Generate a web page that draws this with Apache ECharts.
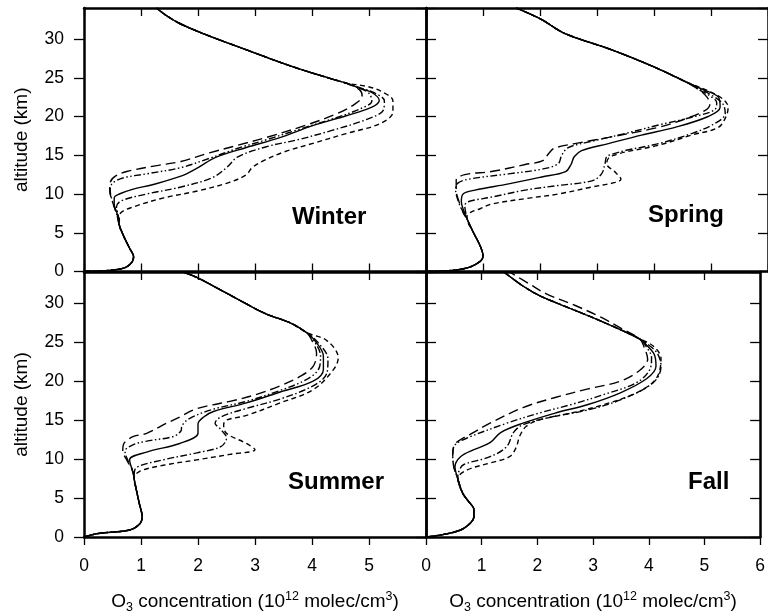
<!DOCTYPE html>
<html>
<head>
<meta charset="utf-8">
<script src="https://cdn.jsdelivr.net/npm/echarts/dist/echarts.min.js"></script>
<style>
  html, body { margin: 0; padding: 0; background: #fff; }
  #chart { width: 768px; height: 616px; }
</style>
</head>
<body>
<div id="chart"></div>
<script>
// Seasonal ozone number-density profiles: [O3 (1e12 molec/cm3), altitude (km)]
const seasons = ['Winter', 'Spring', 'Summer', 'Fall'];
const xRange = [0, 6];
const xStep = 1;
const yRange = [0, 34];
const yStep = 5;
const xTickLabels = ['0', '1', '2', '3', '4', '5', '6'];
const yTickLabels = ['0', '5', '10', '15', '20', '25', '30'];

// ---- Winter ----
const winterLow = [[0,0],[0.45,0.15],[0.72,0.5],[0.84,1.2],[0.87,1.9],[0.80,3.0],[0.70,4.5],[0.62,6.0]];
const winterHigh = [[4.6,24.3],[4.37,24.8],[3.67,26.4],[2.85,28.6],[2.09,30.7],[1.68,32.0],[1.45,33.0],[1.27,34]];
const winter1 = [[0.57,7.5],[0.5,9.0],[0.45,10.5],[0.46,11.5],[0.55,12.3],[0.75,12.9],[1.3,13.7],[1.7,14.2],[2.2,15.3],[2.7,16.3],[3.2,17.3],[3.9,18.9],[4.45,20.4],[4.75,21.6],[4.88,22.6],[4.84,23.4]];
const winter2 = [[0.57,7.5],[0.5,9.0],[0.46,10.5],[0.5,11.4],[0.7,12.1],[1.1,12.6],[1.7,13.4],[2.2,14.6],[2.7,15.9],[3.2,17.0],[3.8,18.4],[4.4,19.8],[4.85,21.0],[5.05,22.0],[5.0,23.0],[4.85,23.6]];
const winter3 = [[0.58,7.5],[0.53,8.7],[0.53,9.5],[0.62,10.0],[0.85,10.6],[1.2,11.2],[1.7,12.3],[2.0,13.4],[2.3,14.7],[2.85,16.0],[3.45,17.3],[4.0,18.8],[4.6,20.1],[5.05,21.2],[5.18,22.1],[5.05,23.1],[4.85,23.6]];
const winter4 = [[0.6,7.3],[0.57,8.3],[0.65,9.1],[1.1,10.0],[1.7,10.9],[2.25,12.1],[2.5,13.4],[2.7,14.8],[3.2,16.1],[3.75,17.0],[4.35,18.2],[4.95,19.6],[5.25,20.8],[5.27,22.0],[5.08,23.1],[4.85,23.7]];
const winter5 = [[0.62,6.8],[0.65,7.6],[0.85,8.3],[1.4,9.5],[2.0,10.4],[2.55,11.5],[2.85,12.5],[2.95,13.4],[3.15,14.3],[3.5,15.4],[4.0,16.5],[4.6,17.8],[5.2,19.1],[5.42,20.6],[5.42,22.0],[5.2,23.3],[4.95,23.9]];

// ---- Spring ----
const springLow = [[0,0],[0.4,0.1],[0.74,0.5],[0.95,1.3],[1.0,2.0],[0.95,3.3],[0.82,5.2],[0.72,6.8]];
const springHigh = [[4.55,24.5],[4.0,26.4],[3.26,28.6],[2.44,30.7],[2.03,32.5],[1.62,33.9],[1.58,34]];
const spring1 = [[0.66,7.5],[0.58,9.0],[0.53,10.5],[0.53,11.8],[0.68,12.5],[1.15,12.9],[1.74,13.8],[2.05,14.3],[2.15,15.2],[2.25,15.9],[2.61,16.5],[3.2,17.3],[4.08,18.6],[4.55,19.7],[4.9,20.8],[4.98,21.6],[4.93,22.5],[4.8,23.4]];
const spring2 = [[0.66,7.5],[0.57,9.0],[0.52,10.5],[0.56,11.4],[0.74,11.9],[1.45,12.6],[2.03,13.2],[2.32,13.9],[2.38,15.0],[2.5,16.0],[2.91,16.8],[3.49,17.8],[4.08,18.9],[4.66,19.9],[5.07,20.9],[5.1,21.8],[4.95,22.8],[4.8,23.4]];
const spring3 = [[0.68,7.5],[0.62,9.0],[0.65,10.0],[0.86,10.5],[1.45,11.3],[2.03,12.2],[2.45,12.9],[2.55,13.9],[2.6,14.8],[2.73,15.6],[3.2,16.5],[3.78,17.6],[4.37,18.6],[4.95,20.0],[5.16,21.2],[5.13,22.5],[4.85,23.5]];
const spring4 = [[0.7,7.5],[0.68,8.5],[0.74,9.0],[1.15,9.6],[1.74,10.5],[2.32,11.1],[2.91,11.7],[3.08,12.6],[3.14,13.9],[3.17,14.8],[3.3,15.2],[3.49,15.6],[4.08,16.5],[4.66,17.8],[5.07,19.1],[5.25,20.4],[5.2,21.7],[4.95,23.0]];
const spring5 = [[0.72,7.2],[0.8,7.7],[0.95,8.1],[1.15,8.7],[1.74,9.4],[2.32,10.0],[2.91,10.9],[3.32,11.5],[3.42,11.9],[3.32,12.8],[3.17,13.9],[3.2,14.6],[3.3,15.0],[3.49,15.4],[4.08,16.3],[4.66,17.6],[5.13,18.6],[5.27,20.1],[5.3,21.2],[5.2,22.3],[4.95,23.3]];

// ---- Summer ----
const summerLow = [[0,0],[0.25,0.45],[0.8,0.9],[0.98,1.7],[1.02,2.6],[0.97,4.3],[0.92,6.0],[0.88,7.5]];
const summerHigh = [[3.91,26.2],[3.61,27.5],[3.2,28.6],[2.8,30.1],[2.27,32.2],[1.98,33.3],[1.74,34]];
const summer1 = [[0.85,8.5],[0.74,10.0],[0.68,11.0],[0.7,12.0],[0.87,12.9],[1.1,13.3],[1.45,14.6],[1.68,15.4],[1.92,16.3],[2.15,16.8],[2.56,17.4],[3.03,18.3],[3.44,19.4],[3.79,20.6],[4.02,21.9],[4.08,23.6],[4.0,25.2]];
const summer2 = [[0.86,8.5],[0.76,10.0],[0.72,11.0],[0.85,11.8],[1.1,12.3],[1.57,12.9],[1.7,13.6],[1.72,14.3],[1.85,15.2],[2.27,16.4],[2.85,17.4],[3.44,18.8],[3.9,20.2],[4.12,21.6],[4.15,23.2],[4.05,25.0]];
const summer3 = [[0.87,8.0],[0.8,9.9],[1.1,10.9],[1.68,12.0],[2.0,13.3],[2.0,14.5],[2.1,15.4],[2.27,16.1],[2.85,17.2],[3.44,18.6],[4.02,20.0],[4.2,21.5],[4.2,23.2],[4.05,25.2]];
const summer4 = [[0.88,7.8],[0.92,8.9],[1.39,9.9],[1.98,10.8],[2.4,11.6],[2.5,12.7],[2.4,13.8],[2.3,14.6],[2.4,15.4],[2.85,16.5],[3.44,17.7],[4.02,19.4],[4.26,21.0],[4.28,22.8],[4.1,25.0]];
const summer5 = [[0.88,7.5],[0.97,8.4],[1.39,9.2],[1.98,9.9],[2.56,10.6],[3.0,11.2],[2.85,12.0],[2.5,13.3],[2.45,14.4],[2.5,15.0],[2.85,15.6],[3.44,17.2],[4.02,18.9],[4.38,21.5],[4.46,23.0],[4.26,25.2]];

// ---- Fall ----
const fallLow = [[0,0],[0.3,0.3],[0.62,0.9],[0.8,1.8],[0.86,2.6],[0.86,3.5],[0.76,4.6],[0.66,5.6],[0.57,7.5]];
const fallHigh = [[3.84,25.4],[3.49,26.6],[2.91,28.4],[2.32,30.1],[2.03,31.0],[1.74,32.2],[1.4,34.0]];
const fallHigh1 = [[3.84,25.4],[3.55,26.6],[3.14,28.2],[2.68,29.7],[2.16,31.2],[1.85,32.5],[1.5,34.0]];
const fall1 = [[0.5,9.0],[0.48,10.5],[0.5,11.7],[0.6,12.4],[0.8,13.2],[1.15,14.6],[1.74,16.6],[2.32,17.9],[2.91,19.0],[3.49,20.0],[3.84,21.4],[3.98,22.8],[3.92,24.3]];
const fall2 = [[0.5,9.0],[0.48,10.5],[0.52,11.8],[0.74,12.7],[1.45,14.6],[2.03,15.9],[2.61,17.0],[3.2,18.3],[3.78,19.8],[4.02,21.5],[4.05,23.0],[3.95,24.5]];
const fall3 = [[0.52,9.0],[0.62,10.3],[0.86,11.2],[1.15,12.1],[1.34,13.4],[1.74,14.6],[2.32,15.9],[2.91,17.0],[3.49,18.5],[3.96,20.3],[4.13,21.9],[4.1,23.4],[3.95,24.7]];
const fall4 = [[0.6,8.6],[0.68,9.3],[1.15,10.3],[1.45,11.6],[1.57,13.4],[1.74,14.4],[2.32,15.5],[2.91,16.3],[3.49,17.6],[4.08,19.8],[4.22,21.9],[4.15,23.6],[3.95,24.9]];
const fall5 = [[0.74,8.6],[1.15,9.5],[1.5,10.3],[1.62,11.5],[1.68,12.9],[1.8,14.2],[2.03,15.0],[2.61,15.9],[3.2,17.0],[3.78,18.5],[4.13,20.3],[4.22,22.9],[4.08,24.5]];

const panelCurves = [
  [winterLow.concat(winter1, winterHigh), winterLow.concat(winter2, winterHigh), winterLow.concat(winter3, winterHigh),
   winterLow.concat(winter4, winterHigh), winterLow.concat(winter5, winterHigh)],
  [springLow.concat(spring1, springHigh), springLow.concat(spring2, springHigh), springLow.concat(spring3, springHigh),
   springLow.concat(spring4, springHigh), springLow.concat(spring5, springHigh)],
  [summerLow.concat(summer1, summerHigh), summerLow.concat(summer2, summerHigh), summerLow.concat(summer3, summerHigh),
   summerLow.concat(summer4, summerHigh), summerLow.concat(summer5, summerHigh)],
  [fallLow.concat(fall1, fallHigh1), fallLow.concat(fall2, fallHigh), fallLow.concat(fall3, fallHigh),
   fallLow.concat(fall4, fallHigh), fallLow.concat(fall5, fallHigh)]
];

// long dash, dash-dot-dot, solid, dash-dot, dashed
const dashStyles = [[10, 5], [7, 2.5, 1.5, 2.5, 1.5, 2.5], 'solid', [7, 2.5, 1.5, 2.5], [5, 3.5]];

const FONT = '"Liberation Sans", Arial, Helvetica, sans-serif';
const frame = { show: true, onZero: false, lineStyle: { color: '#000', width: 2.5 } };
const tickLine = { color: '#000', width: 1.3 };

const grids = [
  { left: 84, top: 8, width: 342, height: 263.5 },
  { left: 426, top: 8, width: 342, height: 263.5 },
  { left: 84, top: 272, width: 342, height: 265 },
  { left: 426, top: 272, width: 342, height: 265 }
];

const xTitle = '{n|O}{sub|3}{n| concentration (10}{sup|12}{n| molec/cm}{sup|3}{n|)}';
const titleRich = {
  n: { fontSize: 19, fontFamily: FONT, color: '#000', lineHeight: 24, verticalAlign: 'middle' },
  sup: { fontSize: 12.5, fontFamily: FONT, color: '#000', lineHeight: 12, verticalAlign: 'top' },
  sub: { fontSize: 12.5, fontFamily: FONT, color: '#000', lineHeight: 12, verticalAlign: 'bottom' }
};

const xAxis = [], yAxis = [], series = [];
grids.forEach((gr, g) => {
  const isBottom = g >= 2;
  const isLeft = g % 2 === 0;
  xAxis.push({
    type: 'value', gridIndex: g, position: 'bottom',
    min: xRange[0], max: xRange[1], interval: xStep,
    axisLine: frame,
    axisTick: { show: true, inside: !isBottom, length: 8, lineStyle: tickLine },
    axisLabel: {
      show: isBottom, margin: 20, fontSize: 17.5, color: '#000', fontFamily: FONT,
      showMaxLabel: !isLeft,
      formatter: v => xTickLabels[Math.round(v / xStep)]
    },
    splitLine: { show: false },
    name: isBottom ? xTitle : '',
    nameLocation: 'middle', nameGap: 53,
    nameTextStyle: { fontSize: 19, fontFamily: FONT, color: '#000', rich: titleRich }
  });
  xAxis.push({
    type: 'value', gridIndex: g, position: 'top',
    min: xRange[0], max: xRange[1], interval: xStep,
    axisLine: frame,
    axisTick: { show: true, inside: true, length: 8, lineStyle: tickLine },
    axisLabel: { show: false },
    splitLine: { show: false }
  });
  yAxis.push({
    type: 'value', gridIndex: g, position: 'left',
    min: yRange[0], max: yRange[1], interval: yStep,
    axisLine: frame,
    axisTick: { show: true, inside: !isLeft, length: 10, lineStyle: tickLine },
    axisLabel: {
      show: isLeft, margin: 20, fontSize: 17.5, color: '#000', fontFamily: FONT,
      showMaxLabel: false,
      formatter: v => (v % yStep === 0 ? yTickLabels[v / yStep] : '')
    },
    splitLine: { show: false },
    name: isLeft ? 'altitude (km)' : '',
    nameLocation: 'middle', nameGap: 53,
    nameTextStyle: { fontSize: 19, fontFamily: FONT, color: '#000' }
  });
  yAxis.push({
    type: 'value', gridIndex: g, position: 'right',
    min: yRange[0], max: yRange[1], interval: yStep,
    axisLine: frame,
    axisTick: { show: true, inside: true, length: 10, lineStyle: tickLine },
    axisLabel: { show: false },
    splitLine: { show: false }
  });

  panelCurves[g].forEach((data, k) => {
    series.push({
      type: 'line', name: seasons[g] + ' ' + (k + 1),
      xAxisIndex: 2 * g, yAxisIndex: 2 * g,
      data: data, showSymbol: false, symbol: 'none',
      smooth: 0.35, clip: true, silent: true,
      lineStyle: { color: '#000', width: 1.4, type: dashStyles[k] }
    });
  });
});

const seasonPos = [[292, 205], [648, 203], [288, 470], [688, 470]];
const title = seasons.map((s, i) => ({
  text: s, left: seasonPos[i][0], top: seasonPos[i][1], padding: 0,
  textStyle: { fontSize: 24, fontWeight: 'bold', fontFamily: FONT, color: '#000' }
}));

const chart = echarts.init(document.getElementById('chart'), null, { renderer: 'canvas' });
chart.setOption({
  animation: false,
  backgroundColor: '#fff',
  title: title,
  grid: grids,
  xAxis: xAxis,
  yAxis: yAxis,
  series: series
});
</script>
</body>
</html>
